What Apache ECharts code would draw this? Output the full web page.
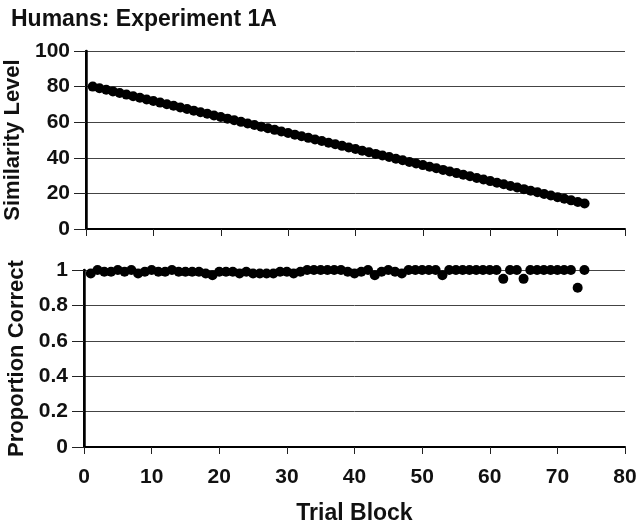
<!DOCTYPE html>
<html>
<head>
<meta charset="utf-8">
<script src="https://cdn.jsdelivr.net/npm/echarts@6/dist/echarts.min.js"></script>
<style>
  html, body { margin: 0; padding: 0; background: #fff; }
  #chart { width: 639px; height: 529px; }
</style>
</head>
<body>
<div id="chart"></div>
<script>
// Trial blocks 1..74
const blocks = [
  1, 2, 3, 4, 5, 6, 7, 8, 9, 10, 11, 12, 13, 14, 15, 16, 17, 18, 19, 20,
  21, 22, 23, 24, 25, 26, 27, 28, 29, 30, 31, 32, 33, 34, 35, 36, 37, 38, 39, 40,
  41, 42, 43, 44, 45, 46, 47, 48, 49, 50, 51, 52, 53, 54, 55, 56, 57, 58, 59, 60,
  61, 62, 63, 64, 65, 66, 67, 68, 69, 70, 71, 72, 73, 74
];

// Similarity level presented in each block
const similarity = [
  80.0, 79.1, 78.2, 77.3, 76.4, 75.5, 74.6, 73.7, 72.8, 71.9,
  71.0, 70.1, 69.2, 68.3, 67.4, 66.5, 65.6, 64.7, 63.8, 62.9,
  62.0, 61.1, 60.2, 59.3, 58.4, 57.5, 56.6, 55.7, 54.8, 53.9,
  53.0, 52.1, 51.2, 50.3, 49.4, 48.5, 47.6, 46.7, 45.8, 44.9,
  44.0, 43.1, 42.2, 41.3, 40.4, 39.5, 38.6, 37.7, 36.8, 35.9,
  35.0, 34.1, 33.2, 32.3, 31.4, 30.5, 29.6, 28.7, 27.8, 26.9,
  26.0, 25.1, 24.2, 23.3, 22.4, 21.5, 20.6, 19.7, 18.8, 17.9,
  17.0, 16.1, 15.2, 14.3
];

// Proportion of correct responses in each block
const proportion = [
  0.98, 1.00, 0.99, 0.99, 1.00, 0.99, 1.00, 0.98, 0.99, 1.00,
  0.99, 0.99, 1.00, 0.99, 0.99, 0.99, 0.99, 0.98, 0.97, 0.99,
  0.99, 0.99, 0.98, 0.99, 0.98, 0.98, 0.98, 0.98, 0.99, 0.99,
  0.98, 0.99, 1.00, 1.00, 1.00, 1.00, 1.00, 1.00, 0.99, 0.98,
  0.99, 1.00, 0.97, 0.99, 1.00, 0.99, 0.98, 1.00, 1.00, 1.00,
  1.00, 1.00, 0.97, 1.00, 1.00, 1.00, 1.00, 1.00, 1.00, 1.00,
  1.00, 0.95, 1.00, 1.00, 0.95, 1.00, 1.00, 1.00, 1.00, 1.00,
  1.00, 1.00, 0.90, 1.00
];

// Axis tick values
const xTicks = [0, 10, 20, 30, 40, 50, 60, 70, 80];
const simTicks = [0, 20, 40, 60, 80, 100];
const propTicks = [0, 0.2, 0.4, 0.6, 0.8, 1];

const FONT = '"Liberation Sans", Arial, sans-serif';
const INK = '#111';

const chart = echarts.init(document.getElementById('chart'), null, { renderer: 'canvas' });

function xAxisFor(gridIndex, withLabels) {
  return {
    type: 'value', gridIndex,
    min: xTicks[0], max: xTicks[xTicks.length - 1], interval: xTicks[1] - xTicks[0],
    axisLine: { show: true, onZero: false, lineStyle: { color: '#000', width: 2 } },
    axisTick: { show: true, length: 7, lineStyle: { color: '#222', width: 1 } },
    splitLine: { show: false },
    axisLabel: {
      show: withLabels, margin: 20, color: INK,
      fontFamily: FONT, fontWeight: 'bold', fontSize: 21
    },
    name: withLabels ? 'Trial Block' : '',
    nameLocation: 'middle', nameGap: 55,
    nameTextStyle: { color: INK, fontFamily: FONT, fontWeight: 'bold', fontSize: 23 }
  };
}

function yAxisFor(gridIndex, ticks, title, formatter) {
  return {
    type: 'value', gridIndex,
    min: ticks[0], max: ticks[ticks.length - 1], interval: ticks[1] - ticks[0],
    axisLine: { show: true, onZero: false, lineStyle: { color: '#000', width: 2 } },
    axisTick: { show: true, length: 12, lineStyle: { color: '#222', width: 1 } },
    splitLine: { show: true, lineStyle: { color: '#444', width: 1 } },
    axisLabel: {
      margin: 16, color: INK, fontFamily: FONT, fontWeight: 'bold', fontSize: 21,
      formatter
    },
    name: title, nameLocation: 'middle', nameGap: 56, nameRotate: 90,
    nameTextStyle: { color: INK, fontFamily: FONT, fontWeight: 'bold', fontSize: 22 }
  };
}

// Plain frame line on the right side of each panel
function rightEdge(gridIndex, ticks) {
  return {
    type: 'value', gridIndex, position: 'right',
    min: ticks[0], max: ticks[ticks.length - 1],
    axisLine: { show: true, lineStyle: { color: '#000', width: 2.5 } },
    axisTick: { show: false }, axisLabel: { show: false }, splitLine: { show: false }
  };
}

chart.setOption({
  animation: false,
  backgroundColor: '#fff',
  title: {
    text: 'Humans: Experiment 1A', left: 6, top: 3,
    textStyle: { color: INK, fontFamily: FONT, fontWeight: 'bold', fontSize: 23 }
  },
  grid: [
    { left: 86, right: 14, top: 51, height: 178, containLabel: false, outerBoundsMode: 'none' },
    { left: 84, right: 14, top: 270, height: 177, containLabel: false, outerBoundsMode: 'none' }
  ],
  xAxis: [xAxisFor(0, false), xAxisFor(1, true)],
  yAxis: [
    yAxisFor(0, simTicks, 'Similarity Level', v => String(v)),
    yAxisFor(1, propTicks, 'Proportion Correct', v => String(Math.round(v * 10) / 10)),
    rightEdge(0, simTicks),
    rightEdge(1, propTicks)
  ],
  series: [
    {
      type: 'scatter', xAxisIndex: 0, yAxisIndex: 0,
      symbol: 'circle', symbolSize: 10,
      itemStyle: { color: '#000', opacity: 1 },
      data: blocks.map((b, i) => [b, similarity[i]])
    },
    {
      type: 'scatter', xAxisIndex: 1, yAxisIndex: 1,
      symbol: 'circle', symbolSize: 10,
      itemStyle: { color: '#000', opacity: 1 },
      data: blocks.map((b, i) => [b, proportion[i]])
    }
  ]
});
</script>
</body>
</html>
